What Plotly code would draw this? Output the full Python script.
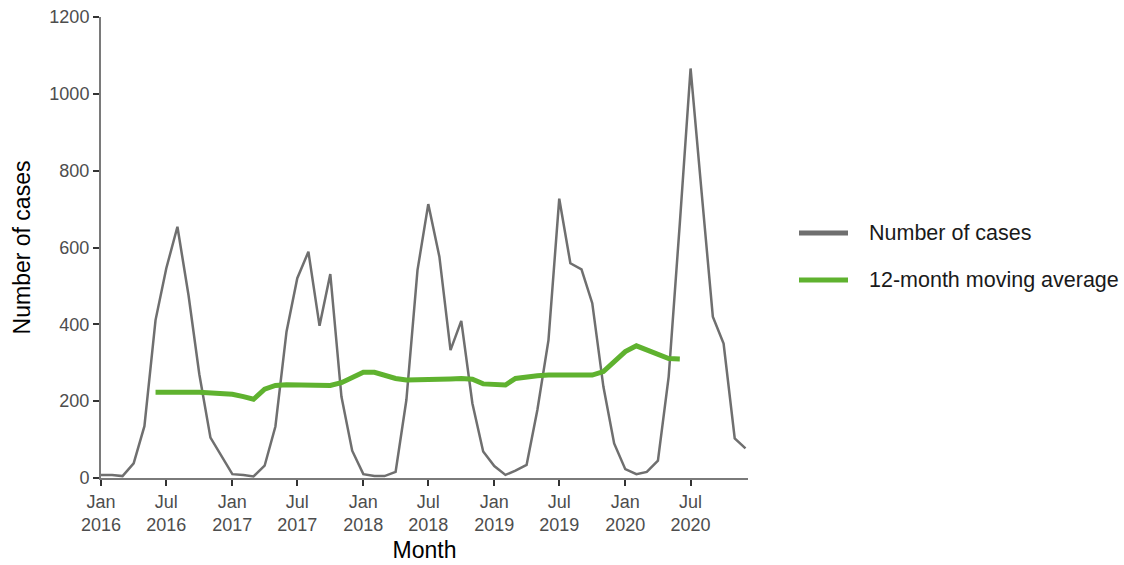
import pandas as pd
import plotly.graph_objects as go

# Monthly case counts, Jan 2016 - Dec 2020
months = pd.date_range("2016-01-01", periods=60, freq="MS")
cases = [
    8, 8, 5, 38, 135, 411, 546, 654, 475, 270, 105, 58,
    10, 8, 4, 32, 134, 381, 520, 589, 396, 531, 212, 71,
    10, 5, 5, 16, 203, 541, 713, 576, 333, 409, 194, 69,
    31, 8, 19, 34, 177, 359, 727, 559, 543, 455, 238, 90,
    23, 10, 16, 45, 264, 663, 1066, 741, 420, 350, 103, 77,
]

# 12-month moving average, Jun 2016 - Jun 2020
ma_months = pd.date_range("2016-06-01", periods=49, freq="MS")
moving_avg = [
    223, 224, 223, 223, 223, 222, 220, 218, 212, 205,
    231, 241, 243, 243, 243, 243, 241, 248, 262, 275,
    275, 268, 259, 255, 255, 256, 256, 258, 259, 257,
    245, 245, 242, 259, 264, 266, 268, 268, 268, 268,
    268, 277, 303, 329, 344, 333, 323, 311, 310,
]

tick_dates = pd.date_range("2016-01-01", "2020-07-01", freq="6MS")
tick_text = [d.strftime("%b<br>%Y") for d in tick_dates]
y_ticks = [0, 200, 400, 600, 800, 1000, 1200]

GRAY = "#6f6f6f"
GREEN = "#5fb22f"
FONT = "Liberation Sans, Arial, sans-serif"

fig = go.Figure()
fig.add_trace(go.Scatter(
    x=months, y=cases, mode="lines", name="Number of cases",
    line=dict(color=GRAY, width=2.5), showlegend=False,
))
fig.add_trace(go.Scatter(
    x=ma_months, y=moving_avg, mode="lines", name="12-month moving average",
    line=dict(color=GREEN, width=5), showlegend=False,
))

# Legend drawn as key lines with text labels to the right of the panel
PLOT_L, PLOT_R, PLOT_T, PLOT_B = 101, 748, 17, 478
legend_items = [("Number of cases", GRAY, 233), ("12-month moving average", GREEN, 280)]
for label, color, ypix in legend_items:
    yp = (PLOT_B - ypix) / (PLOT_B - PLOT_T)
    fig.add_shape(type="line", xref="paper", yref="paper",
                  x0=(799 - PLOT_L) / (PLOT_R - PLOT_L), x1=(848 - PLOT_L) / (PLOT_R - PLOT_L),
                  y0=yp, y1=yp, line=dict(color=color, width=5))
    fig.add_annotation(text=label, xref="paper", yref="paper",
                       x=(867 - PLOT_L) / (PLOT_R - PLOT_L), y=yp,
                       xanchor="left", yanchor="middle", showarrow=False,
                       font=dict(size=21.5, color="#1a1a1a", family=FONT))

fig.update_layout(
    width=1124, height=565,
    margin=dict(l=PLOT_L, r=1124 - PLOT_R, t=PLOT_T, b=565 - PLOT_B),
    paper_bgcolor="white", plot_bgcolor="white",
    font=dict(family=FONT, color="#000000"),
)
fig.update_xaxes(
    range=[months[0], pd.Timestamp("2020-12-08")],
    tickmode="array", tickvals=tick_dates, ticktext=tick_text,
    ticks="outside", ticklen=6, tickwidth=2, tickcolor="#333333",
    showline=True, linecolor="#7a7a7a", linewidth=2,
    showgrid=False, zeroline=False, automargin=False,
    tickfont=dict(size=18, color="#4d4d4d", family=FONT),
    title=dict(text="Month", font=dict(size=23, color="#000000", family=FONT), standoff=8),
)
fig.update_yaxes(
    range=[0, 1200],
    tickmode="array", tickvals=y_ticks,
    ticks="outside", ticklen=6, tickwidth=2, tickcolor="#333333",
    showline=True, linecolor="#7a7a7a", linewidth=2,
    showgrid=False, zeroline=False, automargin=False,
    tickfont=dict(size=18, color="#4d4d4d", family=FONT),
    title=dict(text="Number of cases", font=dict(size=23, color="#000000", family=FONT), standoff=12),
)

fig.write_html("out.html")
